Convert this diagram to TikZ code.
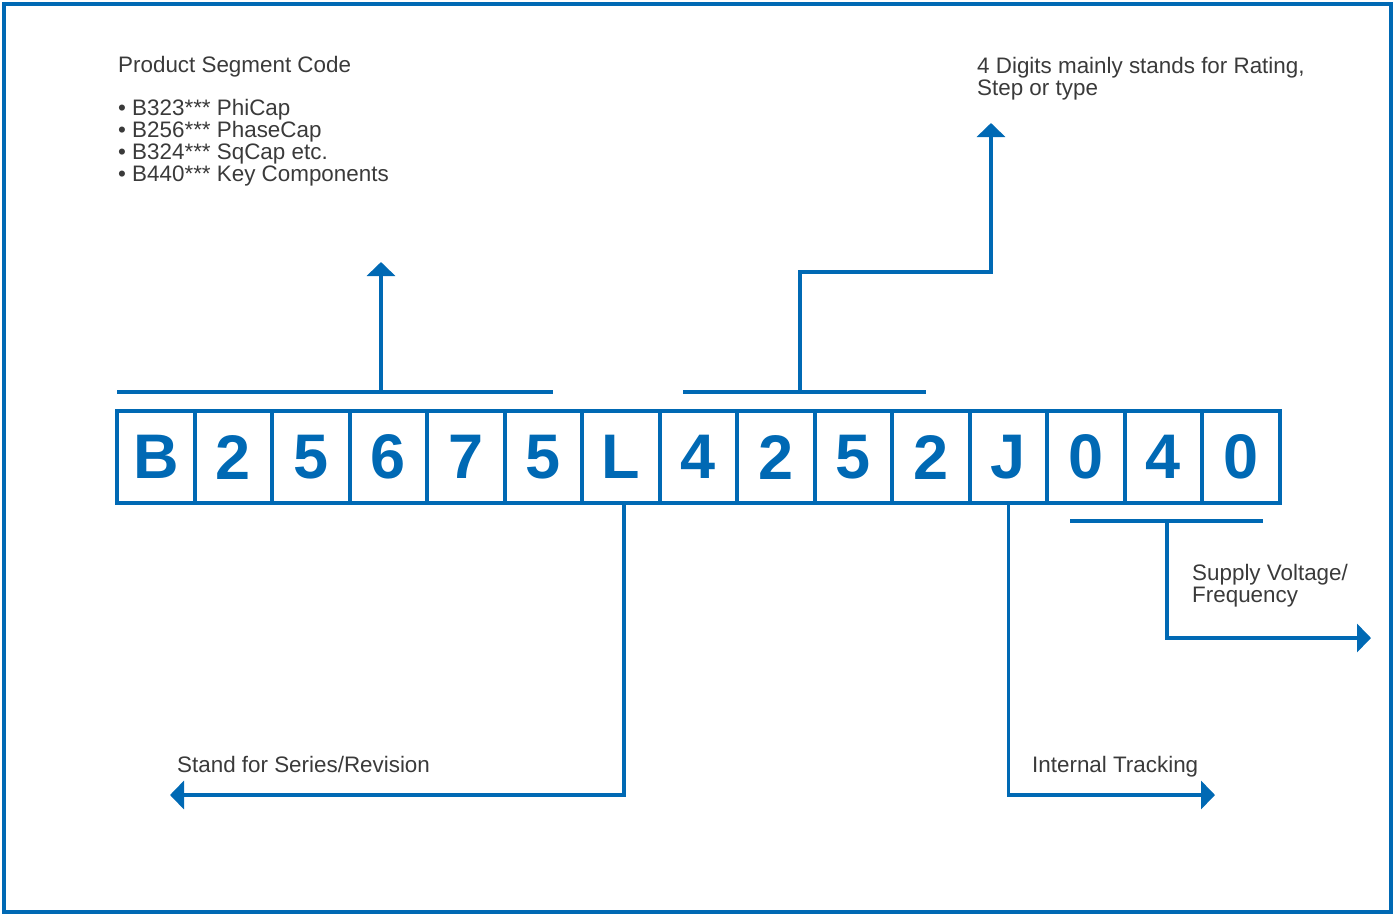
\documentclass[tikz,border=0pt]{standalone}
\usepackage{fontspec}
\setmainfont{Liberation Sans}
\usetikzlibrary{arrows.meta,positioning}
\definecolor{codeblue}{HTML}{0069B4}
\definecolor{txtgray}{HTML}{3A3A3A}

\begin{document}
\begin{tikzpicture}[
      x=1pt, y=-1pt,
      digit/.style={draw=codeblue, line width=4pt, minimum width=77.5pt,
                    minimum height=92pt, inner sep=0pt, outer sep=0pt,
                    text=codeblue, font=\fontsize{63}{63}\selectfont\bfseries},
      lbl/.style={anchor=base west, inner sep=0pt, align=left, text=txtgray,
                  font=\fontsize{22.4}{21.7}\selectfont},
      brk/.style={draw=codeblue, line width=3.5pt},
      arr/.style={brk, -{Triangle[width=28pt, length=14pt]}}
    ]
    \useasboundingbox (0,0) rectangle (1393,914);
    \draw[codeblue, line width=4pt] (4,4) rectangle (1391,912);

    % code boxes
    \foreach \ch [count=\i] in {B,2,5,6,7,5,L,4,2,5,2,J,0,4,0}
      \node[digit] (d\i) at ({117+77.5*(\i-0.5)},457) {\ch};

    % brackets
    \coordinate (segA) at (117,392);
    \coordinate (segB) at (553,392);
    \coordinate (segM) at (381,392);
    \coordinate (segUp) at (381,262);
    \coordinate (ratA) at (683,392);
    \coordinate (ratB) at (926,392);
    \coordinate (ratM) at (800,392);
    \coordinate (ratBend) at (991,272);
    \coordinate (ratUp) at (991,123);
    \coordinate (volA) at (1070,521);
    \coordinate (volB) at (1263,521);
    \coordinate (volM) at (1167,521);
    \coordinate (volEnd) at (1371,638);
    \coordinate (serEnd) at (170,795);
    \coordinate (trkEnd) at (1215,795);

    \draw[brk] (segA) -- (segB);
    \draw[brk] (ratA) -- (ratB);
    \draw[brk] (volA) -- (volB);

    \draw[arr] (segM) -- (segUp);
    \draw[arr] (ratM) |- (ratBend) -- (ratUp);
    \draw[arr] (volM) |- (volEnd);
    \draw[arr] ([xshift=3pt]d7.south) |- (serEnd);
    \draw[arr] (d12.south) |- (trkEnd);

    % labels (multi-line: base is the last line)
    \node[lbl] (seg) at (118,72) {Product Segment Code};
    \node[lbl] (seglist) at (118,181) {\textbullet\ B323*** PhiCap\\
      \textbullet\ B256*** PhaseCap\\
      \textbullet\ B324*** SqCap etc.\\
      \textbullet\ B440*** Key Components};
    \node[lbl] (rat) at (977,95) {4 Digits mainly stands for Rating,\\Step or type};
    \node[lbl] (vol) at (1192,602) {Supply Voltage/\\Frequency};
    \node[lbl] (ser) at (177,772) {Stand for Series/Revision};
    \node[lbl] (trk) at (1032,772) {Internal Tracking};
  \end{tikzpicture}
\end{document}
